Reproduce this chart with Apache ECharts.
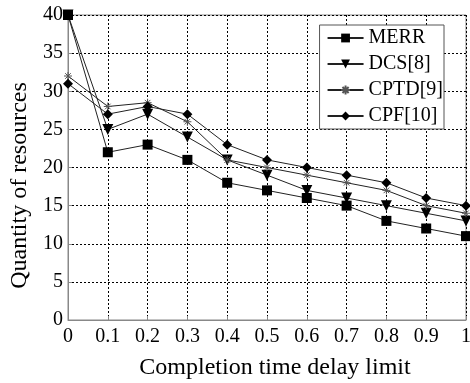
<!DOCTYPE html>
<html>
<head>
<meta charset="utf-8">
<script src="https://cdn.jsdelivr.net/npm/echarts@6/dist/echarts.min.js"></script>
<style>
  html, body { margin: 0; padding: 0; background: #fff; }
  #chart { width: 470px; height: 383px; }
</style>
</head>
<body>
<div id="chart"></div>
<script>
const xValues = [0, 0.1, 0.2, 0.3, 0.4, 0.5, 0.6, 0.7, 0.8, 0.9, 1];
const merr = [40, 22, 23, 21, 18, 17, 16, 15, 13, 12, 11];
const dcs = [40, 25, 27, 24, 21, 19, 17, 16, 15, 14, 13];
const cptd = [32, 28, 28.5, 26, 21, 20, 19, 18, 17, 15, 14];
const cpf = [31, 27, 28, 27, 23, 21, 20, 19, 18, 16, 15];

const font = 'Liberation Serif';
const starPath = 'path://M5,0L5,10M0,5L10,5M1.5,1.5L8.5,8.5M8.5,1.5L1.5,8.5';

const pairs = arr => xValues.map((x, i) => [x, arr[i]]);

const chart = echarts.init(document.getElementById('chart'));

function makeSeries(name, data, symbol, size, extra) {
  return Object.assign({
    name: name,
    type: 'line',
    data: pairs(data),
    symbol: symbol,
    symbolSize: size,
    showAllSymbol: true,
    lineStyle: { color: '#222', width: 1 },
    itemStyle: { color: '#000' },
    emphasis: { disabled: true },
    z: 3
  }, extra || {});
}

chart.setOption({
  animation: false,
  grid: {
    left: 68, right: 4, top: 15, bottom: 63,
    outerBoundsMode: 'none',
    show: true, borderColor: '#888', borderWidth: 1
  },
  legend: {
    orient: 'vertical',
    right: 26, top: 25,
    itemWidth: 36, itemHeight: 11,
    itemGap: 6,
    padding: [3, 1, 3, 7],
    borderColor: '#555', borderWidth: 1,
    backgroundColor: '#fff',
    textStyle: { fontFamily: font, fontSize: 20, color: '#000' },
    data: ['MERR', 'DCS[8]', 'CPTD[9]', 'CPF[10]']
  },
  xAxis: {
    type: 'value',
    min: 0, max: 1, interval: 0.1,
    name: 'Completion time delay limit',
    nameLocation: 'middle',
    nameGap: 36,
    nameTextStyle: { fontFamily: font, fontSize: 24, color: '#000', padding: [0, 0, 0, 16] },
    axisLine: { lineStyle: { color: '#888' } },
    axisTick: { inside: true, length: 4, lineStyle: { color: '#888' } },
    axisLabel: {
      fontFamily: font, fontSize: 20, color: '#000', margin: 7,
      formatter: v => String(Math.round(v * 10) / 10)
    },
    splitLine: { show: true, lineStyle: { color: '#000', type: [2, 2], width: 1 } }
  },
  yAxis: {
    type: 'value',
    min: 0, max: 40, interval: 5,
    name: 'Quantity of resources',
    nameLocation: 'middle',
    nameGap: 35,
    nameTextStyle: { fontFamily: font, fontSize: 24, color: '#000', padding: [0, 36, 0, 0] },
    axisLine: { show: true, lineStyle: { color: '#888' } },
    axisTick: { show: true, inside: true, length: 4, lineStyle: { color: '#888' } },
    axisLabel: { fontFamily: font, fontSize: 20, color: '#000', margin: 5 },
    splitLine: { show: true, lineStyle: { color: '#000', type: [2, 2], width: 1 } }
  },
  series: [
    makeSeries('MERR', merr, 'rect', 10),
    makeSeries('DCS[8]', dcs, 'triangle', 11, { symbolRotate: 180 }),
    makeSeries('CPTD[9]', cptd, starPath, 8, {
      itemStyle: { color: 'rgba(0,0,0,0)', borderColor: '#555', borderWidth: 1 }
    }),
    makeSeries('CPF[10]', cpf, 'diamond', 10)
  ]
});
</script>
</body>
</html>
